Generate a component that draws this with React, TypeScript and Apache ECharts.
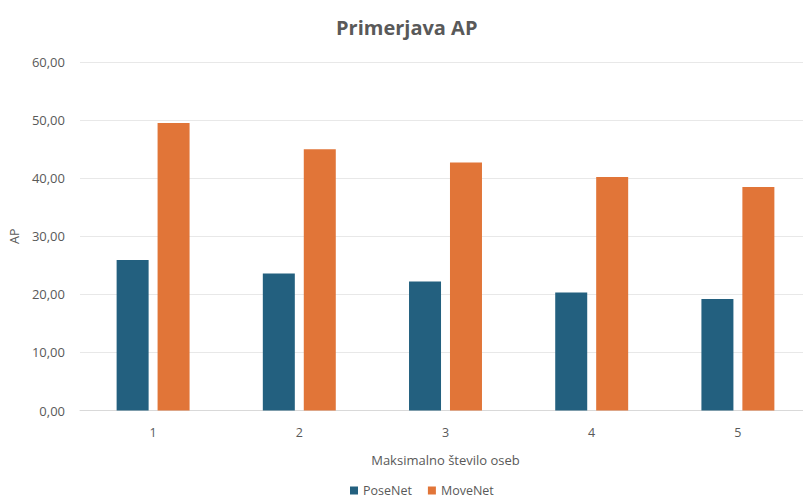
import React, { useEffect, useRef } from "react";
import * as echarts from "echarts";

const categories = ["1", "2", "3", "4", "5"];
const poseNet = [25.9, 23.6, 22.2, 20.3, 19.2];
const moveNet = [49.5, 45.0, 42.7, 40.2, 38.5];
const seriesNames = ["PoseNet", "MoveNet"];

const FONT = "'Open Sans', 'Noto Sans', sans-serif";

export default function App() {
  const ref = useRef<HTMLDivElement>(null);
  useEffect(() => {
    if (!ref.current) return;
    const chart = echarts.init(ref.current, null, { renderer: "svg" });
    chart.setOption({
      animation: false,
      backgroundColor: "#ffffff",
      textStyle: { fontFamily: FONT },
      title: {
        text: "Primerjava AP",
        left: 331,
        top: 12,
        textStyle: { fontSize: 20, fontWeight: "bold", color: "#595959", fontFamily: FONT },
      },
      legend: {
        data: seriesNames,
        bottom: 2,
        left: 345,
        itemWidth: 8,
        itemHeight: 8,
        itemGap: 16,
        icon: "rect",
        textStyle: { fontSize: 12.5, color: "#595959", fontFamily: FONT },
      },
      grid: { left: 80, right: 0, top: 62, bottom: 93.5, containLabel: false },
      xAxis: {
        type: "category",
        data: categories,
        name: "Maksimalno število oseb",
        nameLocation: "middle",
        nameGap: 43,
        nameTextStyle: { fontSize: 13, color: "#595959", fontFamily: FONT },
        axisLine: { lineStyle: { color: "#d9d9d9" } },
        axisTick: { show: false },
        axisLabel: { fontSize: 12.5, color: "#595959", margin: 15 },
      },
      yAxis: {
        type: "value",
        min: 0,
        max: 60,
        interval: 10,
        name: "AP",
        nameLocation: "middle",
        nameGap: 56,
        nameTextStyle: { fontSize: 12.5, color: "#595959", fontFamily: FONT },
        axisLine: { show: false },
        axisTick: { show: false },
        axisLabel: {
          fontSize: 13,
          color: "#595959",
          margin: 15,
          formatter: (v: number) => v.toFixed(2).replace(".", ","),
        },
        splitLine: { lineStyle: { color: "#e8e8e8" } },
      },
      series: [
        {
          name: seriesNames[0],
          type: "bar",
          data: poseNet,
          barWidth: 32,
          barGap: "28%",
          itemStyle: { color: "#23607f" },
        },
        {
          name: seriesNames[1],
          type: "bar",
          data: moveNet,
          barWidth: 32,
          itemStyle: { color: "#e17538" },
        },
      ],
    });
    return () => chart.dispose();
  }, []);
  return (
    <div
      style={{ position: "fixed", left: 0, top: 0, width: 803, height: 504, overflow: "hidden" }}
    >
      <div ref={ref} style={{ width: 811, height: 504 }} />
    </div>
  );
}
